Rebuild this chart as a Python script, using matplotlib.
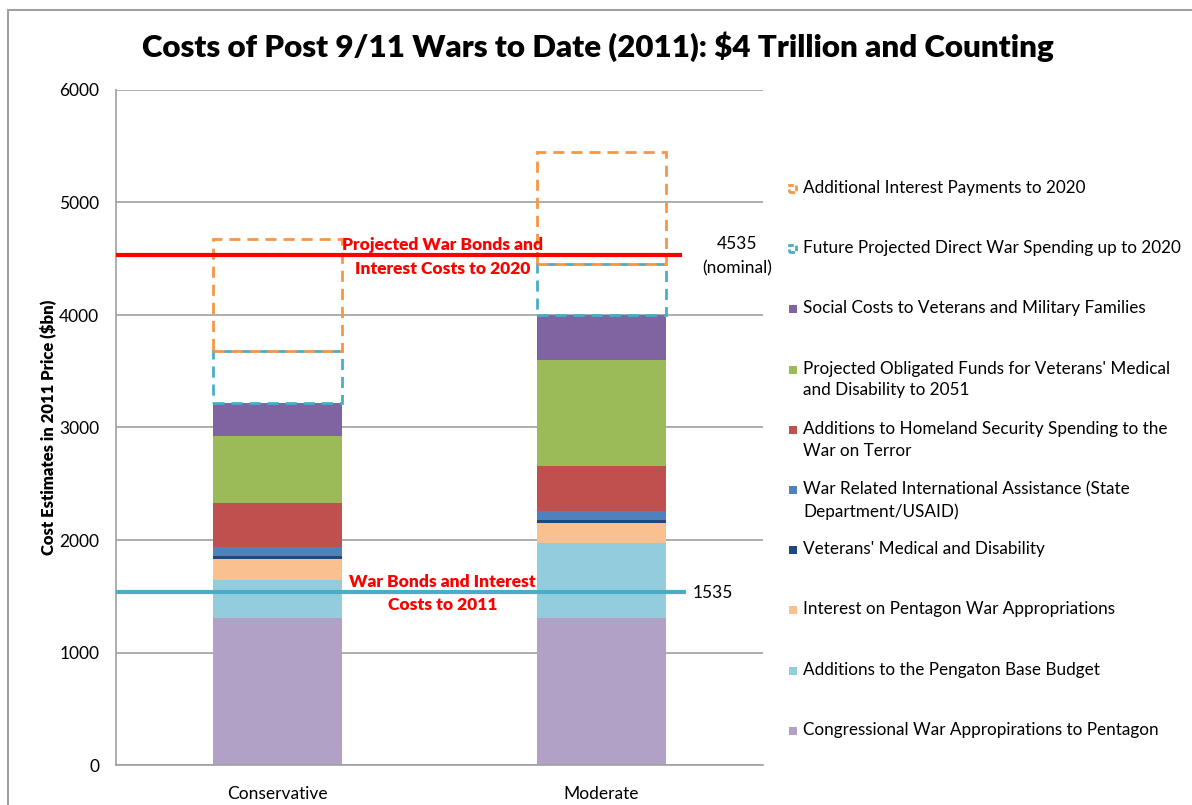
import numpy as np
import matplotlib.pyplot as plt
from matplotlib.patches import Rectangle

plt.rcParams['font.family'] = ['Lato', 'DejaVu Sans']

categories = ['Conservative', 'Moderate']

# stacked segments, bottom to top ($bn, 2011 prices)
congress = [1307, 1307]
base_budget = [337, 666]
interest_pentagon = [187, 178]
vet_medical = [27, 27]
intl_assist = [80, 80]
homeland = [391, 400]
obligated = [595, 942]
social = [294, 400]
future_direct = [462, 453]
additional_interest = [996, 996]

bonds_2020 = 4535
bonds_2011 = 1535

solid_series = [
    (congress, '#B2A1C7', 'Congressional War Appropirations to Pentagon'),
    (base_budget, '#93CDDD', 'Additions to the Pengaton Base Budget'),
    (interest_pentagon, '#FAC090', 'Interest on Pentagon War Appropriations'),
    (vet_medical, '#1F497D', "Veterans' Medical and Disability"),
    (intl_assist, '#4F81BD', 'War Related International Assistance (State\nDepartment/USAID)'),
    (homeland, '#C0504D', 'Additions to Homeland Security Spending to the\nWar on Terror'),
    (obligated, '#9BBB59', "Projected Obligated Funds for Veterans' Medical\nand Disability to 2051"),
    (social, '#8064A2', 'Social Costs to Veterans and Military Families'),
]
dashed_series = [
    (future_direct, '#4BACC6', 'Future Projected Direct War Spending up to 2020'),
    (additional_interest, '#F79646', 'Additional Interest Payments to 2020'),
]

W, H = 1192, 805
fig = plt.figure(figsize=(W / 100, H / 100), dpi=100)
ax = fig.add_axes([116 / W, 1 - 765 / H, 647 / W, 675 / H])

x = np.arange(len(categories))
bottom = np.zeros(len(categories))
for vals, col, lab in solid_series:
    ax.bar(x, vals, 0.4, bottom=bottom, color=col, edgecolor='none', zorder=2)
    bottom += np.array(vals)
for vals, col, lab in dashed_series:
    ax.bar(x, vals, 0.4, bottom=bottom, fill=False, edgecolor=col,
           linestyle=(0, (4, 2.5)), linewidth=2, zorder=3)
    bottom += np.array(vals)

ax.set_xlim(-0.5, 1.5)
ax.set_ylim(0, 6000)
ax.set_yticks(np.arange(0, 6001, 1000))
ax.set_xticks(x)
ax.set_xticklabels(categories)
ax.tick_params(axis='both', length=0, labelsize=12.5)
ax.tick_params(axis='x', pad=15)
ax.tick_params(axis='y', pad=12)
ax.grid(axis='y', color='#a0a0a0', linewidth=1.2, zorder=0)
ax.set_axisbelow(True)
for s in ['top', 'right']:
    ax.spines[s].set_visible(False)
for s in ['left', 'bottom']:
    ax.spines[s].set_color('#a0a0a0')
    ax.spines[s].set_linewidth(1.2)

ax.axhline(bonds_2020, xmin=0, xmax=0.872, color='#FF0000', linewidth=3, zorder=4)
ax.axhline(bonds_2011, xmin=0, xmax=0.878, color='#4BACC6', linewidth=3, zorder=4)

ax.text(0.51, bonds_2020 - 20, 'Projected War Bonds and\nInterest Costs to 2020', ha='center', va='center',
        color='#FF0000', fontweight='heavy', fontsize=12.5, linespacing=1.6, zorder=5)
ax.text(0.51, bonds_2011 - 10, 'War Bonds and Interest\nCosts to 2011', ha='center', va='center',
        color='#FF0000', fontweight='heavy', fontsize=12.5, linespacing=1.55, zorder=5)
fig.text(737 / W, 1 - 256 / H, '4535\n(nominal)', ha='center', va='center', fontsize=12.5, linespacing=1.6)
fig.text(713 / W, 1 - 593 / H, '1535', ha='center', va='center', fontsize=12.5)

ax.set_ylabel('Cost Estimates in 2011 Price ($bn)', fontweight='heavy', fontsize=12, labelpad=2)

fig.text(598 / W, 1 - 47 / H, 'Costs of Post 9/11 Wars to Date (2011): $4 Trillion and Counting',
         ha='center', va='center', fontweight='heavy', fontsize=22.5)

# legend, drawn by hand to keep Excel-like spacing
legend_items = [s for s in dashed_series[::-1]] + [s for s in solid_series[::-1]]
for i, (vals, col, lab) in enumerate(legend_items):
    yc = 189 + i * 60.2
    if i < 2:
        fig.patches.append(Rectangle((789 / W, 1 - (yc + 3) / H), 7 / W, 7 / H, transform=fig.transFigure,
                                     fill=False, edgecolor=col, linewidth=2, linestyle=(0, (2, 1))))
    else:
        fig.patches.append(Rectangle((789 / W, 1 - (yc + 4) / H), 8 / W, 8 / H, transform=fig.transFigure,
                                     facecolor=col, edgecolor='none'))
    fig.text(803 / W, 1 - (yc - 9) / H, lab, ha='left', va='top', fontsize=12.3, linespacing=1.45)

# outer chart frame
fig.patches.append(Rectangle((8 / W, -0.1), 1.2, 1 - 10 / H + 0.1, transform=fig.transFigure,
                             fill=False, edgecolor='#a0a0a0', linewidth=1.5))

fig.savefig('out.png', dpi=100)
